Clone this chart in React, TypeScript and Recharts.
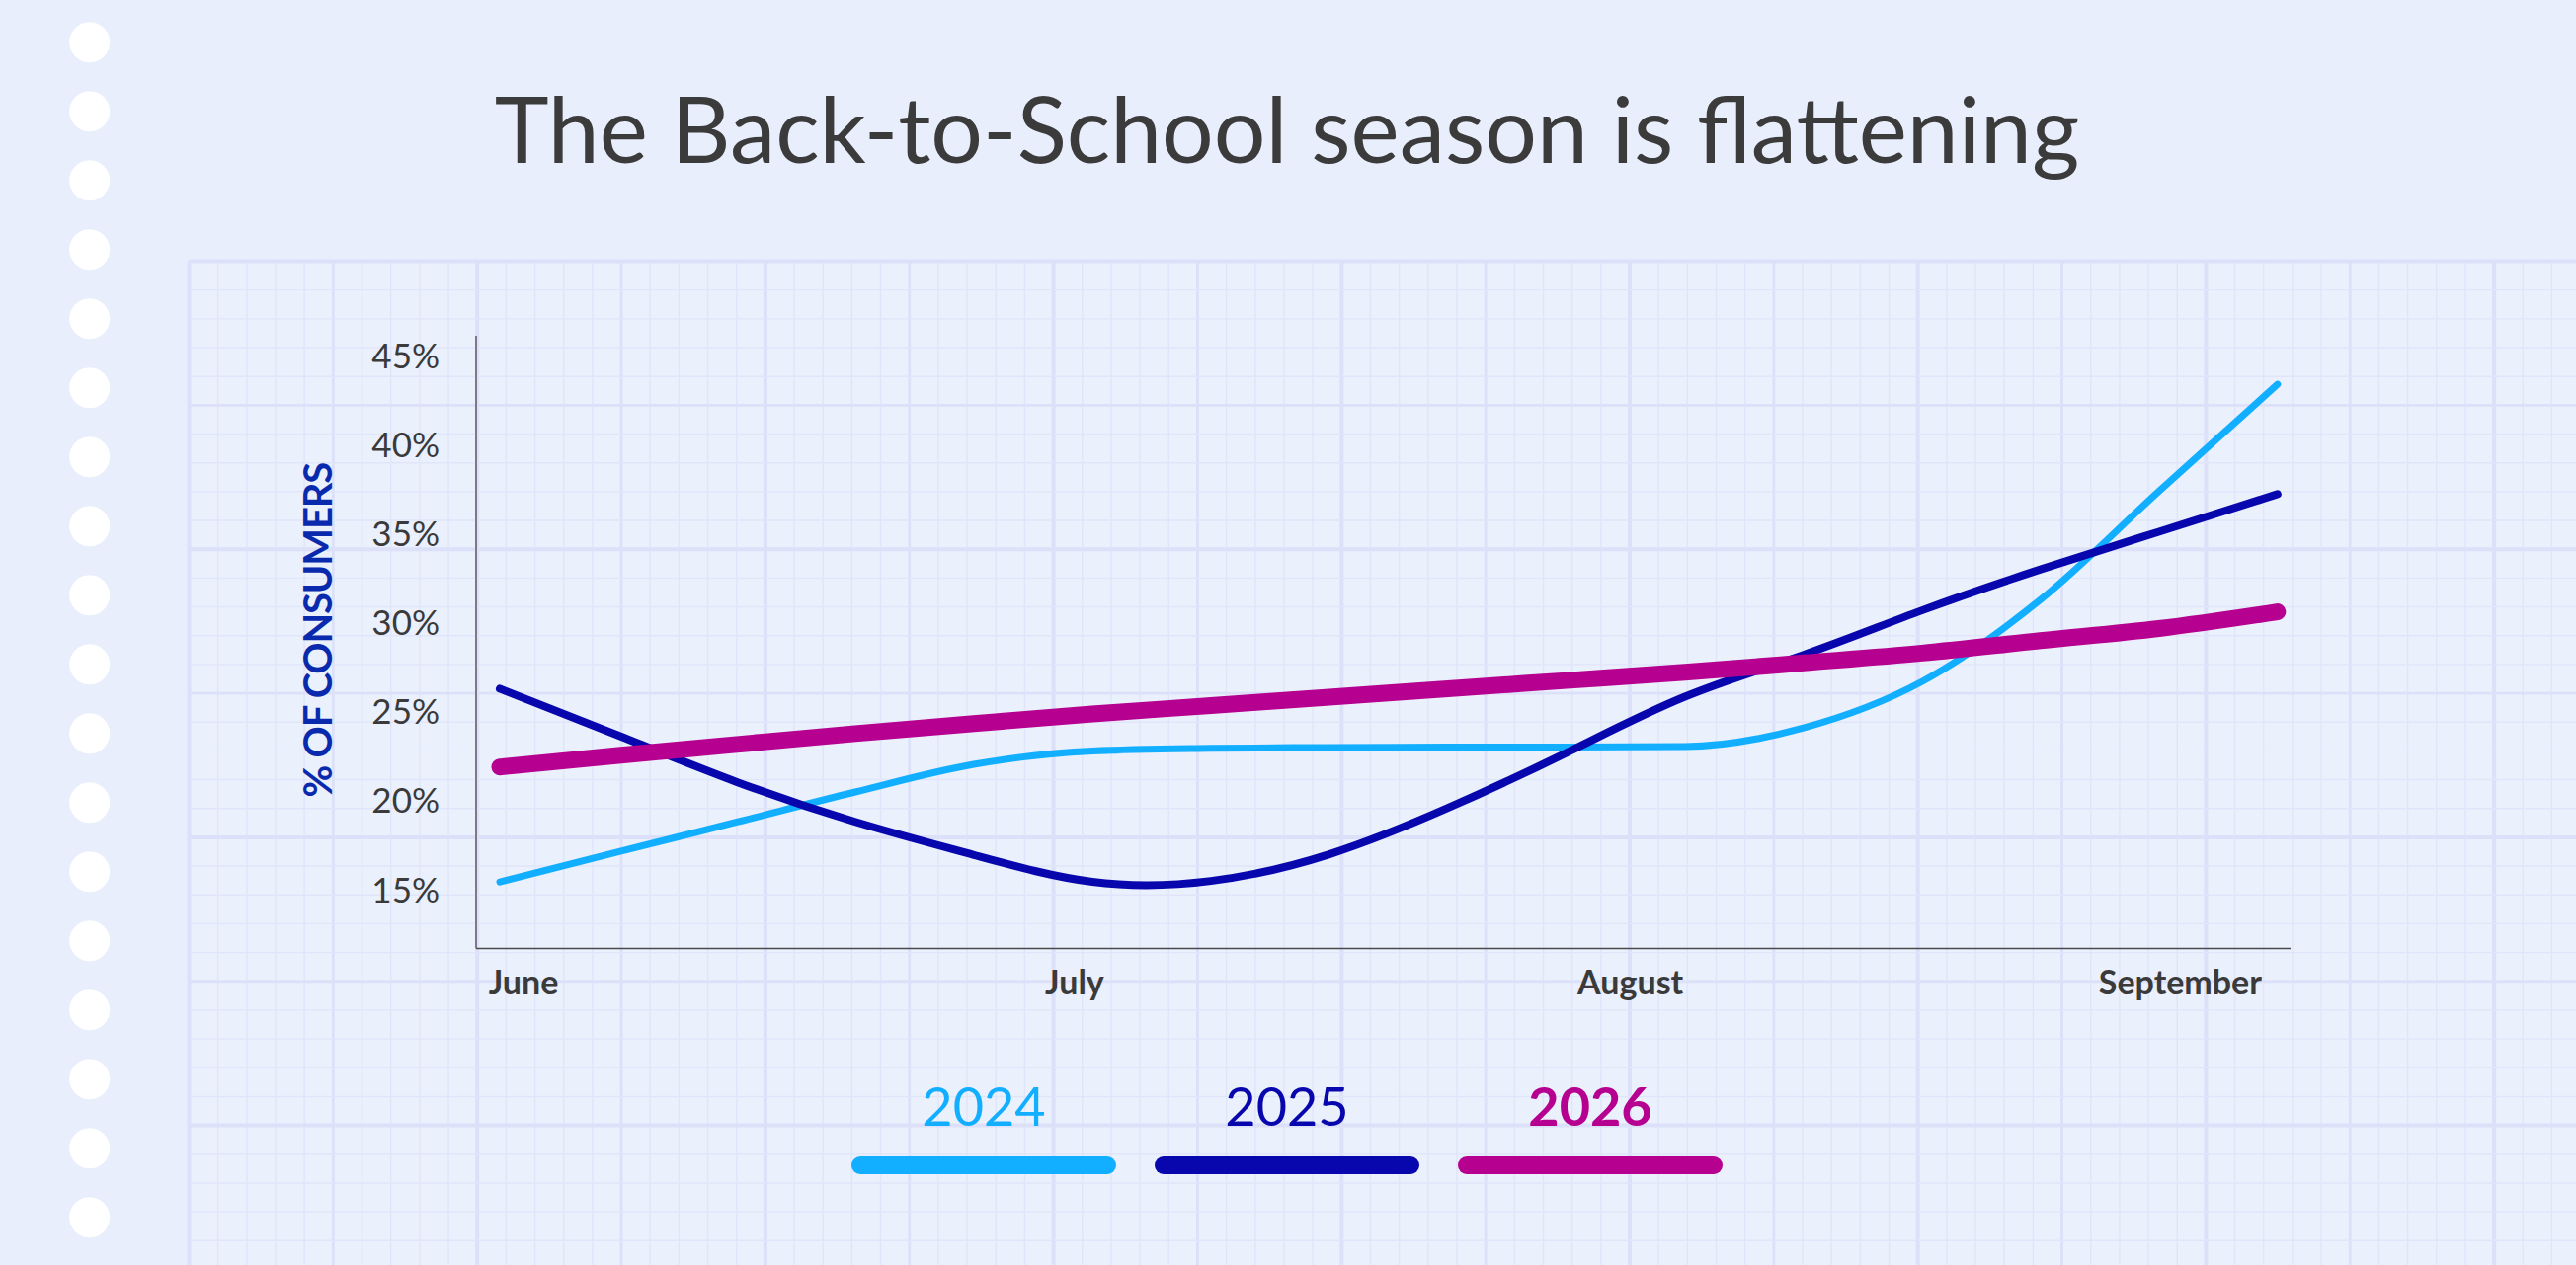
import React from 'react'
import { LineChart, Line, XAxis, YAxis } from 'recharts'

// week index from the start of June
const WEEKS = [0, 1, 2, 3, 4, 5, 6, 7, 8, 9, 10, 11, 12, 13, 14, 15]
const Y2024 = [15.44, 17.13, 18.81, 20.5, 22.05, 22.8, 22.95, 23.0, 23.02, 23.03, 23.05, 24.1, 26.7, 31.3, 37.4, 43.4]
const Y2025 = [26.3, 23.68, 21.06, 18.82, 16.96, 15.45, 15.5, 17.0, 19.6, 22.7, 25.85, 28.2, 30.7, 33.0, 35.12, 37.23]
const Y2026 = [21.9, 22.55, 23.17, 23.78, 24.34, 24.88, 25.35, 25.82, 26.3, 26.76, 27.22, 27.75, 28.3, 29.0, 29.68, 30.62]

const MONTHS = ['June', 'July', 'August', 'September']
const MONTH_TICKS = [0.2, 4.85, 9.54, 14.18]
const Y_TICKS = [15, 20, 25, 30, 35, 40, 45]

const SERIES = [
  { key: 'y2024', label: '2024', color: '#12AEFF', width: 7, weight: 400, curve: 'monotone' },
  { key: 'y2025', label: '2025', color: '#0807AD', width: 8, weight: 400, curve: 'natural' },
  { key: 'y2026', label: '2026', color: '#B6008F', width: 17, weight: 700, curve: 'monotone' },
] as const

const data = WEEKS.map((w, i) => ({ week: w, y2024: Y2024[i], y2025: Y2025[i], y2026: Y2026[i] }))

const W = 2608
const H = 1281
const FONT = 'Lato, sans-serif'

const GRID_X0 = 191.5
const GRID_Y0 = 264.5
const CELL = 29.17

function Background() {
  const lines: React.ReactNode[] = []
  for (let k = 0; GRID_X0 + k * CELL <= W; k++) {
    const x = GRID_X0 + k * CELL
    const sw = k % 10 === 0 ? 4 : k % 5 === 0 ? 2.8 : 1.4
    lines.push(<line key={'v' + k} x1={x} x2={x} y1={GRID_Y0} y2={H} stroke={k % 5 === 0 ? '#DCE0F8' : '#E0E5FA'} strokeWidth={sw} />)
  }
  for (let k = 0; GRID_Y0 + k * CELL <= H; k++) {
    const y = GRID_Y0 + k * CELL
    const sw = k % 10 === 0 ? 4 : k % 5 === 0 ? 2.8 : 1.4
    lines.push(<line key={'h' + k} x1={GRID_X0} x2={W} y1={y} y2={y} stroke={k % 5 === 0 ? '#DCE0F8' : '#E0E5FA'} strokeWidth={sw} />)
  }
  const dots = Array.from({ length: 18 }, (_, i) => (
    <circle key={i} cx={90.7} cy={42.7 + i * 70} r={20.5} fill="#FFFFFF" />
  ))
  return (
    <svg width={W} height={H} style={{ position: 'absolute', left: 0, top: 0 }}>
      <rect x={0} y={0} width={W} height={H} fill="#E8EEFB" />
      <rect x={GRID_X0} y={GRID_Y0} width={W - GRID_X0} height={H - GRID_Y0} fill="#EAF0FC" />
      {lines}
      {dots}
      <text x={1303} y={165} textAnchor="middle" fontFamily={FONT} fontSize={93} fill="#3B3B3B">
        The Back-to-School season is flattening
      </text>
      {SERIES.map((s, i) => {
        const cx = 996 + i * 307
        return (
          <g key={s.key}>
            <text x={cx} y={1140} textAnchor="middle" fontFamily={FONT} fontSize={54} fontWeight={s.weight} fill={s.color}>
              {s.label}
            </text>
            <rect x={cx - 134} y={1171} width={268} height={18} rx={9} fill={s.color} />
          </g>
        )
      })}
    </svg>
  )
}

export default function App() {
  return (
    <div style={{ position: 'absolute', left: 0, top: 0, width: W, height: H, overflow: 'hidden' }}>
      <Background />
      <div style={{ position: 'absolute', left: 0, top: 0 }}>
        <LineChart width={W} height={H} data={data} margin={{ top: 340, right: 289, bottom: 240.4, left: 282 }}>
          <XAxis
            type="number"
            dataKey="week"
            domain={[-0.2, 15.11]}
            ticks={MONTH_TICKS}
            interval={0}
            tickFormatter={(v: number) => MONTHS[MONTH_TICKS.indexOf(v)]}
            height={80}
            axisLine={{ stroke: '#4A4A4A', strokeWidth: 1.5 }}
            tickLine={false}
            tickMargin={16}
            tick={{ fontSize: 34, fontWeight: 700, fill: '#3A3A3A', fontFamily: FONT }}
          />
          <YAxis
            type="number"
            domain={[11.7, 46.13]}
            ticks={Y_TICKS}
            interval={0}
            tickFormatter={(v: number) => `${v}%`}
            width={200}
            axisLine={{ stroke: '#5A5A5A', strokeWidth: 1.5 }}
            tickLine={false}
            tickMargin={31}
            tick={{ fontSize: 35, fill: '#3A3A3A', fontFamily: FONT }}
            label={{
              content: (props: any) => {
                const vb = props.viewBox || { x: 282, y: 340, width: 200, height: 620 }
                const x = vb.x + 54
                const y = vb.y + vb.height / 2 - 12
                return (
                  <text x={x} y={y} transform={`rotate(-90 ${x} ${y})`} textAnchor="middle" fontFamily={FONT} fontSize={40} letterSpacing={-1.2} fontWeight={700} fill="#0A2AAE">
                    % OF CONSUMERS
                  </text>
                )
              },
            }}
          />
          {SERIES.map((s) => (
            <Line
              key={s.key}
              type={s.curve}
              dataKey={s.key}
              stroke={s.color}
              strokeWidth={s.width}
              strokeLinecap="round"
              dot={false}
              activeDot={false}
              isAnimationActive={false}
            />
          ))}
        </LineChart>
      </div>
    </div>
  )
}
